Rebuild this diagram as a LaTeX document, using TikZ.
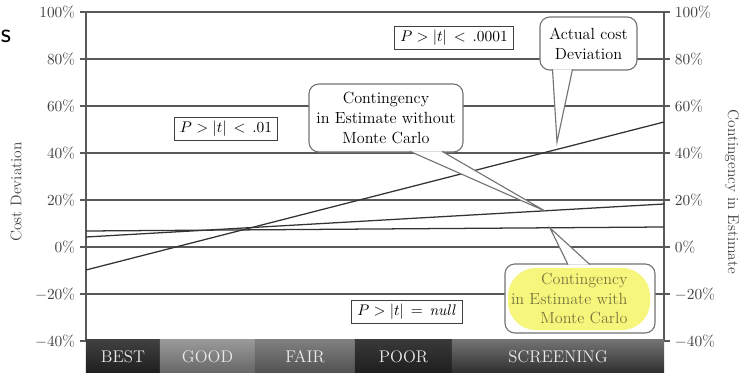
\documentclass[tikz,border=0pt]{standalone}
\usepackage{amsmath}
\usepackage{amssymb}
\usepackage{tikz}
\usetikzlibrary{positioning}

\definecolor{hlyellow}{RGB}{246,246,125}
\definecolor{hltext}{RGB}{120,118,60}

\begin{document}
\begin{tikzpicture}
		[x=0.025cm, y=-0.025cm,
		grid/.style={draw=black!65, line width=1.1pt},
		trend/.style={draw=black!80, line width=0.9pt},
		pbox/.style={draw=black!75, line width=0.6pt, inner xsep=4pt, inner ysep=3pt, font=\fontsize{11}{13}\selectfont},
		note/.style={draw=black!55, line width=0.8pt, rounded corners=7pt, fill=white, align=center, font=\fontsize{11.5}{14}\selectfont},
		pointer/.style={draw=black!55, line width=0.8pt, fill=white},
		tick/.style={font=\fontsize{11}{13}\selectfont, text=black!75},
		band/.style={minimum height=0.825cm, inner sep=0pt, text=black!8, font=\fontsize{12}{14}\selectfont}]
		\useasboundingbox (0,0) rectangle (742,373);

		% grid and axis labels
		\foreach \p in {100,80,...,-40} {
			\draw[grid] (80,{247-2.35*\p}) -- (670,{247-2.35*\p});
			\node[tick, anchor=east] at (80,{247-2.35*\p}) {$\p$\%};
			\node[tick, anchor=west] at (670,{247-2.35*\p}) {$\p$\%};
		}
		\draw[grid] (86,12) -- (86,341);
		\draw[grid] (664,12) -- (664,341);
		\node[tick, rotate=90] (ltitle) at (16,192) {Cost Deviation};
		\node[tick, rotate=-90] (rtitle) at (732,192) {Contingency in Estimate};
		\node[font=\sffamily\fontsize{20}{22}\selectfont] (cut) at (6,36) {s};

		% bands
		\node[band, minimum width=1.85cm, top color=black!75, bottom color=black!88] (best) at (123,356.5) {BEST};
		\node[band, minimum width=2.375cm, top color=black!40, bottom color=black!60] (good) at (207.5,356.5) {GOOD};
		\node[band, minimum width=2.5cm, top color=black!50, bottom color=black!68] (fair) at (305,356.5) {FAIR};
		\node[band, minimum width=2.425cm, top color=black!78, bottom color=black!88] (poor) at (403.5,356.5) {POOR};
		\node[band, minimum width=5.3cm, top color=black!55, bottom color=black!82] (screen) at (558,356.5) {SCREENING};

		% trend lines
		\draw[trend] (86,270) -- (664,122);
		\draw[trend] (86,237) -- (664,204);
		\draw[trend] (86,231) -- (664,227);

		% significance boxes
		\node[pbox, fill=white] (p1) at (454,38) {$P > |t| \,<\, .0001$};
		\node[pbox, fill=white] (p2) at (226,129) {$P > |t| \,<\, .01$};
		\node[pbox, fill=white] (p3) at (407,312) {$P > |t| \,=\, \mathit{null}$};

		% callouts
		\node[note, minimum width=2.425cm, minimum height=1.325cm] (actual) at (588.5,43.5) {Actual cost\\Deviation};
		\coordinate (tipa) at (557,142);
		\filldraw[pointer] ([xshift=-0.9cm, yshift=0.03cm]actual.south) -- (tipa) -- ([xshift=-0.4cm, yshift=0.03cm]actual.south);

		\node[note, minimum width=3.85cm, minimum height=1.7cm] (without) at (386,118) {Contingency\\in Estimate without\\Monte Carlo};
		\coordinate (tipb) at (545,211);
		\filldraw[pointer] ([xshift=0.6cm, yshift=0.03cm]without.south) -- (tipb) -- ([xshift=1.4cm, yshift=0.03cm]without.south);

		\node[note, minimum width=3.75cm, minimum height=1.725cm] (with) at (580,298.5) {};
		\coordinate (tipc) at (550,228);
		\filldraw[pointer] ([xshift=-0.3cm, yshift=-0.03cm]with.north) -- (tipc) -- ([xshift=0.25cm, yshift=-0.03cm]with.north);
		\fill[hlyellow, rounded corners=0.7cm] (508,268) rectangle (650,330);
		\node[note, draw=none, fill=none, align=right, text=hltext, anchor=east, inner sep=0pt] (withtext) at (628,298.5) {Contingency\\in Estimate with\\Monte Carlo};
	\end{tikzpicture}
\end{document}
